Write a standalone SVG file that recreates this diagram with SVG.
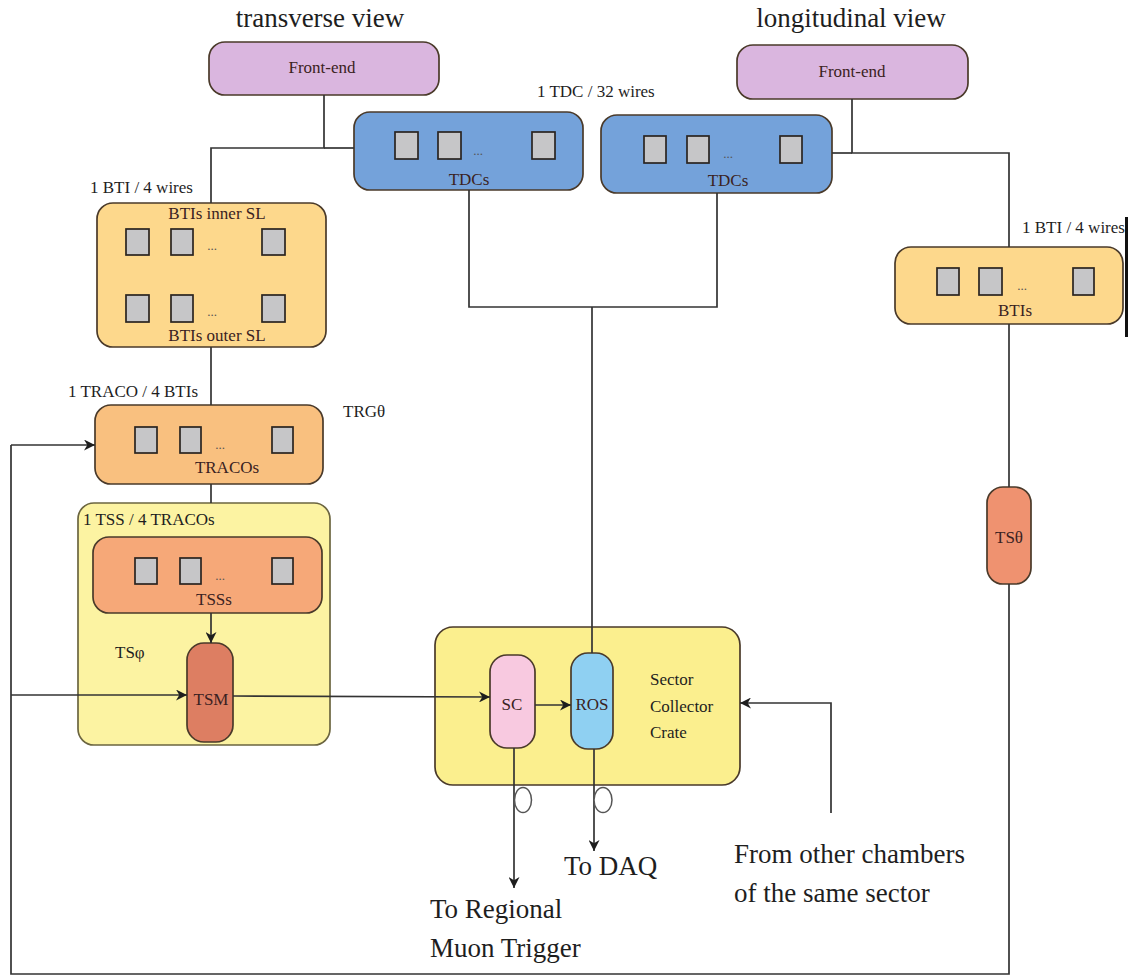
<svg xmlns="http://www.w3.org/2000/svg" width="1129" height="977" viewBox="0 0 1129 977">
<style>
text{font-family:"Liberation Serif","Times New Roman",serif;fill:#1e1e1e}
.t{font-size:27px}
.lbl{font-size:17px}
.in{font-size:17px;fill:#3a2222;text-anchor:middle}
.big{font-size:27px}
.box{stroke:#4a3a2a;stroke-width:1.7}
.sq{fill:#c6c6c8;stroke:#2a2420;stroke-width:1.7}
.ln{stroke:#333;stroke-width:1.7;fill:none}
.dots{font-size:13px;fill:#555;text-anchor:middle}
</style>
<defs>
<marker id="arr" viewBox="0 0 10 10" refX="10" refY="5" markerWidth="13" markerHeight="11" markerUnits="userSpaceOnUse" orient="auto">
<path d="M0,0 L10,5 L0,10 L3,5 z" fill="#1e1e1e"/>
</marker>
</defs>
<rect width="1129" height="977" fill="#fff"/>
<text class="t" x="320" y="27" text-anchor="middle">transverse view</text>
<text class="t" x="851" y="27" text-anchor="middle">longitudinal view</text>
<g id="frontend-l">
<rect class="box" x="209" y="42" width="230" height="53" rx="16" fill="#dab6df"/>
<text class="in" x="322" y="73">Front-end</text>
</g>
<g id="frontend-r">
<rect class="box" x="737" y="45" width="231" height="54" rx="16" fill="#dab6df"/>
<text class="in" x="852" y="77">Front-end</text>
</g>
<text class="lbl" x="537" y="97">1 TDC / 32 wires</text>
<g id="tdc-l">
<rect class="box" x="354" y="112" width="229" height="78" rx="16" fill="#74a2da"/>
<rect class="sq" x="395" y="132" width="23" height="27"/>
<rect class="sq" x="438" y="132" width="23" height="27"/>
<text class="dots" x="478" y="155">...</text>
<rect class="sq" x="532" y="132" width="23" height="27"/>
<text class="in" x="469" y="185">TDCs</text>
</g>
<g id="tdc-r">
<rect class="box" x="601" y="115" width="231" height="78" rx="16" fill="#74a2da"/>
<rect class="sq" x="644" y="136" width="22" height="27"/>
<rect class="sq" x="687" y="136" width="22" height="27"/>
<text class="dots" x="728" y="158">...</text>
<rect class="sq" x="780" y="136" width="22" height="27"/>
<text class="in" x="728" y="186">TDCs</text>
</g>
<text class="lbl" x="90" y="193">1 BTI / 4 wires</text>
<g id="bti-l">
<rect class="box" x="97" y="203" width="229" height="144" rx="16" fill="#fdd88c"/>
<text class="in" x="217" y="219">BTIs inner SL</text>
<rect class="sq" x="126" y="229" width="23" height="26"/>
<rect class="sq" x="171" y="229" width="22" height="26"/>
<text class="dots" x="212" y="250">...</text>
<rect class="sq" x="262" y="229" width="23" height="26"/>
<rect class="sq" x="126" y="295" width="23" height="27"/>
<rect class="sq" x="171" y="295" width="22" height="27"/>
<text class="dots" x="212" y="316">...</text>
<rect class="sq" x="262" y="295" width="23" height="27"/>
<text class="in" x="217" y="341">BTIs outer SL</text>
</g>
<text class="lbl" x="1022" y="233">1 BTI / 4 wires</text>
<g id="bti-r">
<rect class="box" x="895" y="247" width="228" height="77" rx="16" fill="#fdd88c"/>
<rect class="sq" x="937" y="268" width="22" height="27"/>
<rect class="sq" x="979" y="268" width="23" height="27"/>
<text class="dots" x="1022" y="290">...</text>
<rect class="sq" x="1073" y="268" width="21" height="27"/>
<text class="in" x="1015" y="316">BTIs</text>
</g>
<rect x="1125" y="217" width="3" height="120" fill="#111"/>
<text class="lbl" x="68" y="397">1 TRACO / 4 BTIs</text>
<text class="lbl" x="343" y="417">TRGθ</text>
<g id="traco">
<rect class="box" x="95" y="405" width="228" height="79" rx="16" fill="#f9c07f"/>
<rect class="sq" x="135" y="427" width="22" height="26"/>
<rect class="sq" x="180" y="427" width="21" height="26"/>
<text class="dots" x="220" y="449">...</text>
<rect class="sq" x="272" y="427" width="21" height="26"/>
<text class="in" x="227" y="473">TRACOs</text>
</g>
<g id="tsphi">
<rect x="78" y="503" width="252" height="242" rx="16" fill="#fcf3a2" stroke="#6b6540" stroke-width="1.7"/>
<text class="lbl" x="83" y="525">1 TSS / 4 TRACOs</text>
<text class="lbl" x="115" y="658">TSφ</text>
</g>
<g id="tss">
<rect class="box" x="93" y="537" width="229" height="76" rx="16" fill="#f6a878"/>
<rect class="sq" x="135" y="558" width="22" height="26"/>
<rect class="sq" x="180" y="558" width="21" height="26"/>
<text class="dots" x="220" y="580">...</text>
<rect class="sq" x="272" y="558" width="21" height="26"/>
<text class="in" x="214" y="605">TSSs</text>
</g>
<g id="tsm">
<rect class="box" x="187" y="643" width="46" height="99" rx="17" fill="#dd7e62"/>
<text class="in" x="211" y="705">TSM</text>
</g>
<g id="tstheta">
<rect class="box" x="987" y="487" width="44" height="97" rx="16" fill="#ef9270"/>
<text class="in" x="1009" y="543">TSθ</text>
</g>
<g id="crate">
<rect class="box" x="435" y="627" width="305" height="158" rx="18" fill="#fbef8e"/>
<text class="lbl" x="650" y="685">Sector</text>
<text class="lbl" x="650" y="712">Collector</text>
<text class="lbl" x="650" y="738">Crate</text>
</g>
<g id="sc">
<rect class="box" x="490" y="655" width="45" height="93" rx="17" fill="#f8c9e0"/>
<text class="in" x="512" y="710">SC</text>
</g>
<g id="ros">
<rect class="box" x="571" y="653" width="42" height="96" rx="17" fill="#8fd0f2"/>
<text class="in" x="592" y="710">ROS</text>
</g>
<text class="big" x="564" y="875">To DAQ</text>
<text class="big" x="430" y="918">To Regional</text>
<text class="big" x="430" y="957">Muon Trigger</text>
<text class="big" x="734" y="863">From other chambers</text>
<text class="big" x="734" y="902">of the same sector</text>
<g id="connectors">
<polyline class="ln" points="324,95 324,148 211,148 211,203"/>
<line class="ln" x1="324" y1="148" x2="354" y2="148"/>
<line class="ln" x1="211" y1="347" x2="211" y2="405"/>
<line class="ln" x1="211" y1="484" x2="211" y2="503"/>
<polyline class="ln" points="852,99 852,153 1009,153 1009,247"/>
<line class="ln" x1="832" y1="153" x2="852" y2="153"/>
<line class="ln" x1="1009" y1="324" x2="1009" y2="487"/>
<polyline class="ln" points="1009,584 1009,974 11,974 11,445"/>
<polyline class="ln" points="469,190 469,307 717,307 717,193"/>
<line class="ln" x1="592" y1="307" x2="592" y2="653"/>
<line class="ln" x1="11" y1="445" x2="95" y2="445" marker-end="url(#arr)"/>
<line class="ln" x1="11" y1="695" x2="187" y2="695" marker-end="url(#arr)"/>
<line class="ln" x1="211" y1="613" x2="211" y2="643" marker-end="url(#arr)"/>
<line class="ln" x1="233" y1="696" x2="490" y2="697" marker-end="url(#arr)"/>
<line class="ln" x1="535" y1="705" x2="571" y2="705" marker-end="url(#arr)"/>
<polyline class="ln" points="831,813 831,703 740,703" marker-end="url(#arr)"/>
<line class="ln" x1="514" y1="748" x2="514" y2="888" marker-end="url(#arr)"/>
<line class="ln" x1="594" y1="749" x2="594" y2="851" marker-end="url(#arr)"/>
<ellipse cx="523" cy="800" rx="8.5" ry="12.5" fill="#fff" stroke="#555" stroke-width="1.5"/>
<ellipse cx="603" cy="800" rx="9" ry="12.5" fill="#fff" stroke="#555" stroke-width="1.5"/>
</g>
</svg>
